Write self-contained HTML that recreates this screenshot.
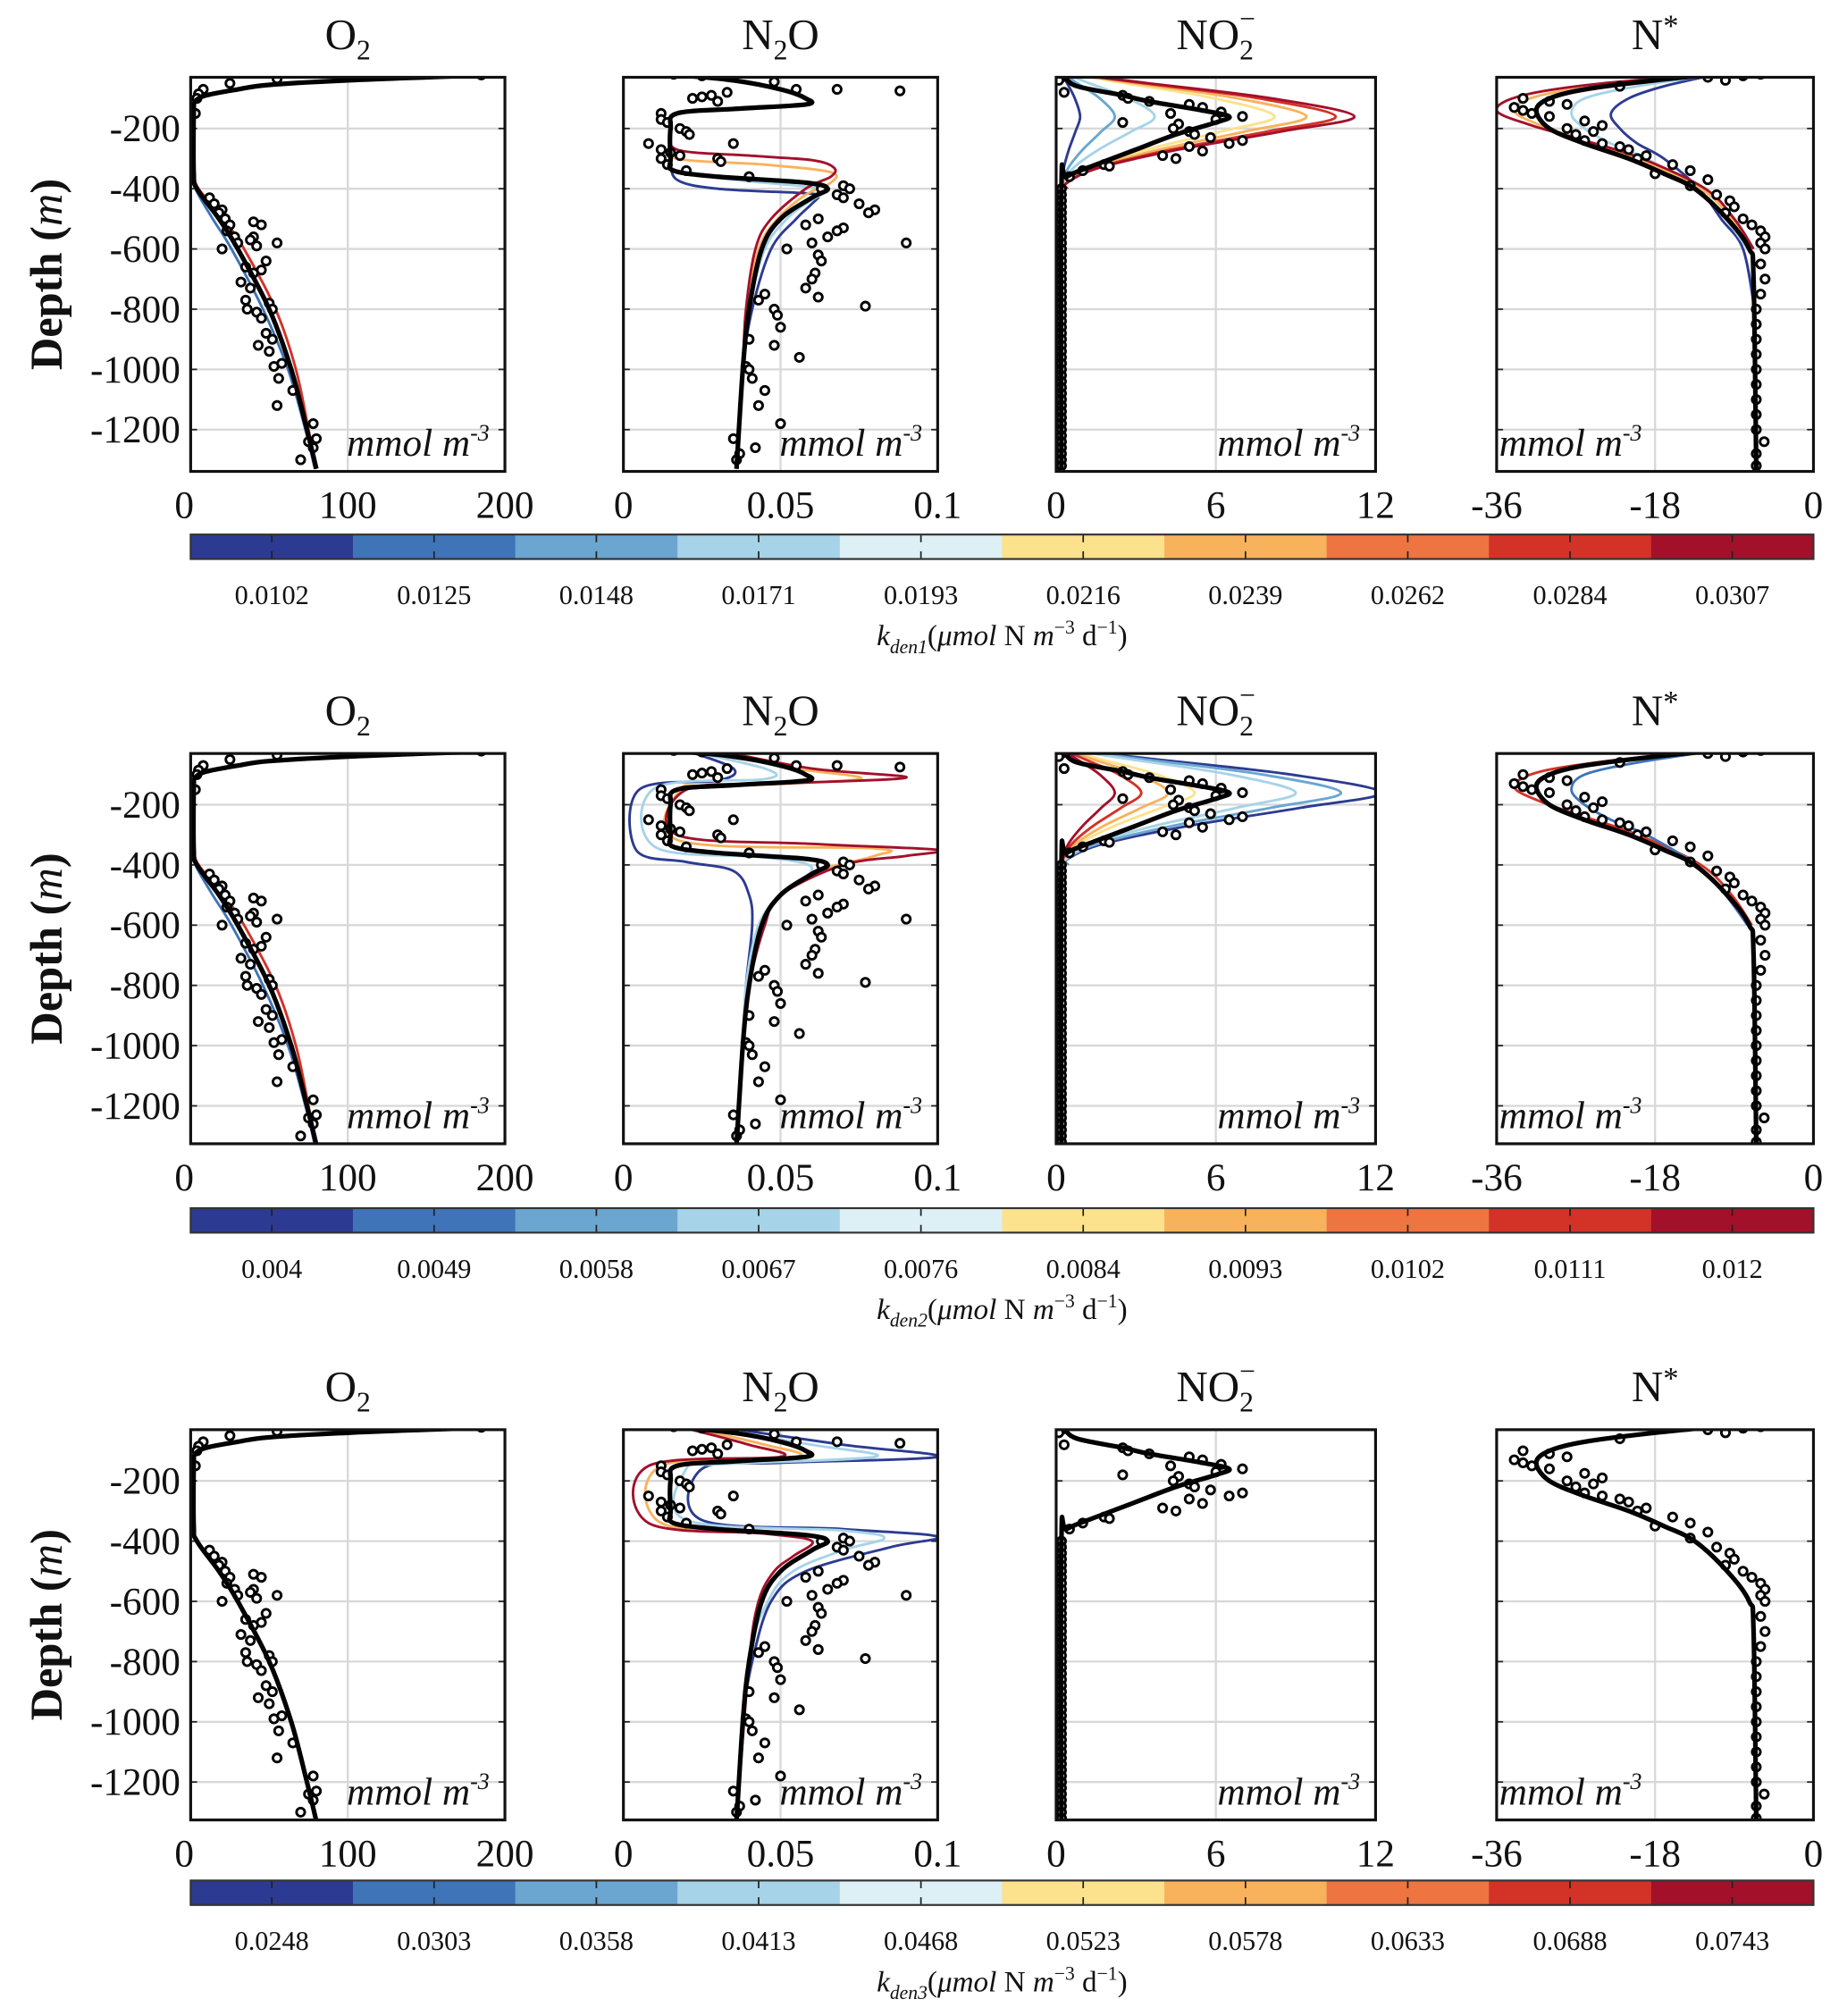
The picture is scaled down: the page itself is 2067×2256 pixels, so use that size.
<!DOCTYPE html>
<html><head><meta charset="utf-8">
<style>
html,body{margin:0;padding:0;background:#fff}
svg{display:block}
text{font-family:"Liberation Serif",serif;fill:#111}
</style></head>
<body>
<svg id="fig" xmlns="http://www.w3.org/2000/svg" width="2067" height="2256" viewBox="0 0 1434 1565.2"></svg>
<script>
// ---------- data ----------
const cmap = ["#2c3b91","#3f74b8","#6aa6d0","#a6d3e8","#dcf0f6","#fce28c","#f8b25c","#ee7442","#d33227","#a3102a"];
const cbLabels1 = ["0.0102","0.0125","0.0148","0.0171","0.0193","0.0216","0.0239","0.0262","0.0284","0.0307"];
const cbLabels2 = ["0.004","0.0049","0.0058","0.0067","0.0076","0.0084","0.0093","0.0102","0.0111","0.012"];
const cbLabels3 = ["0.0248","0.0303","0.0358","0.0413","0.0468","0.0523","0.0578","0.0633","0.0688","0.0743"];
const depthTicks = [200,400,600,800,1000,1200];
const o2Ticks = ["0","100","200"], n2oTicks = ["0","0.05","0.1"], no2Ticks = ["0","6","12"], nstarTicks = ["-36","-18","0"];

const o2Obs = [[22,185],[25,110],[35,55],[50,25],[70,8],[85,5],[100,4],[150,3],[430,12],[450,15],[470,20],[480,18],[500,22],[520,25],[540,23],[560,28],[580,30],[600,20],[580,55],[520,45],[510,40],[560,40],[590,42],[570,38],[640,48],[670,45],[660,35],[680,40],[710,32],[730,38],[770,35],[800,36],[810,42],[780,50],[800,52],[830,45],[880,48],[900,52],[920,43],[940,50],[980,58],[990,53],[1030,56],[1070,65],[1120,55],[1180,78],[1240,75],[1230,80],[1260,78],[1300,70]];
const n2oObs = [[20,0.016],[25,0.025],[30,0.035],[45,0.048],[70,0.068],[75,0.088],[70,0.055],[80,0.033],[90,0.028],[100,0.022],[95,0.025],[110,0.03],[150,0.012],[170,0.012],[180,0.014],[200,0.018],[210,0.02],[220,0.021],[250,0.008],[270,0.012],[280,0.015],[290,0.018],[300,0.012],[320,0.014],[250,0.035],[300,0.03],[310,0.031],[340,0.02],[360,0.04],[400,0.063],[420,0.068],[390,0.07],[400,0.072],[430,0.07],[450,0.075],[470,0.08],[480,0.078],[500,0.062],[520,0.058],[530,0.07],[540,0.068],[560,0.065],[580,0.06],[600,0.052],[580,0.09],[620,0.062],[640,0.063],[680,0.061],[700,0.06],[730,0.058],[760,0.062],[790,0.077],[750,0.045],[770,0.043],[800,0.048],[820,0.049],[860,0.05],[900,0.04],[920,0.048],[960,0.056],[990,0.039],[1000,0.04],[1030,0.041],[1070,0.045],[1120,0.043],[1180,0.05],[1230,0.035],[1260,0.042],[1280,0.037],[1300,0.036]];
const no2Obs = [[20,0.1],[30,0.2],[40,0.1],[80,0.3],[90,2.5],[100,2.7],[110,3.5],[120,5],[130,5.5],[150,4.3],[145,6.2],[160,7],[170,6],[180,2.5],[185,4.6],[200,4.4],[210,5],[220,5.2],[230,5.8],[240,7],[250,6.5],[260,5],[275,5.5],[290,4],[300,4.5],[320,1.8],[325,2],[340,1],[360,0.5],[400,0.2],[420,0.2],[440,0.2],[460,0.2],[480,0.2],[500,0.2],[520,0.2],[540,0.2],[560,0.2],[580,0.2],[600,0.2],[620,0.2],[640,0.2],[660,0.2],[680,0.2],[700,0.2],[720,0.2],[740,0.2],[760,0.2],[780,0.2],[800,0.2],[820,0.2],[840,0.2],[860,0.2],[880,0.2],[900,0.2],[920,0.2],[940,0.2],[960,0.2],[980,0.2],[1000,0.2],[1020,0.2],[1040,0.2],[1060,0.2],[1080,0.2],[1100,0.2],[1120,0.2],[1140,0.2],[1160,0.2],[1180,0.2],[1200,0.2],[1220,0.2],[1240,0.2],[1260,0.2],[1280,0.2],[1300,0.2],[1320,0.2]];
const nstarObs = [[20,-6],[25,-8],[30,-12],[40,-10],[60,-22],[100,-33],[110,-30],[120,-28],[130,-34],[140,-33],[150,-32],[160,-30],[175,-26],[190,-24],[200,-28],[210,-25],[220,-27],[240,-26],[250,-24],[260,-22],[270,-21],[290,-19],[300,-20],[320,-16],[340,-14],[350,-18],[370,-12],[390,-14],[420,-11],[440,-9.5],[460,-9],[480,-10],[500,-8],[520,-7],[540,-6],[560,-5.5],[580,-6],[600,-5.5],[650,-6],[700,-5.5],[750,-6],[800,-6.5],[850,-6.5],[900,-6.5],[950,-6.5],[1000,-6.5],[1050,-6.5],[1100,-6.5],[1150,-6.5],[1200,-6.5],[1240,-5.6],[1280,-6.5],[1320,-6.5]];

const o2Model = [[22,195],[30,150],[40,100],[55,50],[70,30],[90,10],[110,3],[150,2],[350,2],[400,4],[500,18],[600,30],[800,50],[1000,64],[1200,74],[1330,80]];
const o2Blue = [[350,2],[400,3],[500,14],[600,26],[800,46],[1000,62],[1200,73],[1330,79]];
const o2Red = [[350,2],[400,5],[500,21],[600,34],[800,54],[1000,67],[1200,75],[1330,80]];

const n2oModel = [[25,0.02],[40,0.035],[70,0.05],[100,0.058],[120,0.058],[135,0.035],[150,0.017],[200,0.015],[300,0.015],[340,0.016],[360,0.03],[380,0.058],[400,0.065],[430,0.06],[500,0.05],[600,0.044],[800,0.04],[1000,0.038],[1330,0.036]];
const n2oR1Blue = [[300,0.015],[370,0.017],[400,0.03],[415,0.058],[425,0.062],[450,0.06],[500,0.055],[600,0.047],[800,0.041],[1000,0.038],[1330,0.036]];
const n2oR1Light = [[300,0.015],[340,0.017],[370,0.035],[395,0.06],[410,0.064],[450,0.058],[500,0.052],[600,0.045],[800,0.04],[1000,0.038],[1330,0.036]];
const n2oR1Orange = [[250,0.015],[300,0.017],[320,0.045],[345,0.066],[380,0.066],[420,0.058],[500,0.049],[600,0.043],[800,0.039],[1000,0.038],[1330,0.036]];
const n2oR1Red = [[200,0.015],[270,0.017],[290,0.04],[305,0.06],[330,0.067],[360,0.066],[400,0.058],[500,0.047],[600,0.042],[800,0.039],[1000,0.038],[1330,0.036]];
const n2oR2Blue = [[20,0.02],[80,0.035],[120,0.03],[150,0.005],[350,0.004],[390,0.02],[420,0.035],[500,0.04],[600,0.041],[800,0.039],[1000,0.038],[1330,0.036]];
const n2oR2Light = [[20,0.02],[80,0.045],[115,0.045],[145,0.01],[340,0.01],[375,0.045],[410,0.06],[500,0.05],[600,0.043],[800,0.039],[1000,0.038],[1330,0.036]];
const n2oR2Orange = [[20,0.025],[80,0.055],[115,0.075],[140,0.03],[150,0.018],[320,0.018],[345,0.08],[370,0.08],[420,0.062],[500,0.05],[600,0.044],[800,0.04],[1000,0.038],[1330,0.036]];
const n2oR2Red = [[20,0.03],[80,0.06],[110,0.09],[130,0.05],[150,0.02],[300,0.017],[330,0.06],[350,0.1],[370,0.09],[400,0.07],[500,0.05],[600,0.045],[800,0.04],[1000,0.038],[1330,0.036]];
const n2oR3Blue = [[20,0.03],[80,0.07],[120,0.1],[140,0.05],[160,0.025],[330,0.025],[360,0.07],[385,0.1],[420,0.085],[500,0.058],[600,0.047],[800,0.041],[1000,0.038],[1330,0.036]];
const n2oR3Light = [[20,0.025],[80,0.06],[120,0.08],[145,0.03],[160,0.02],[330,0.02],[365,0.07],[390,0.083],[430,0.07],[500,0.054],[600,0.046],[800,0.04],[1330,0.036]];
const n2oR3Orange = [[20,0.02],[80,0.045],[120,0.055],[150,0.012],[340,0.012],[370,0.05],[395,0.065],[440,0.058],[500,0.05],[600,0.044],[800,0.04],[1330,0.036]];
const n2oR3Red = [[20,0.018],[80,0.04],[120,0.05],[150,0.008],[340,0.008],[375,0.045],[400,0.06],[450,0.054],[500,0.048],[600,0.043],[800,0.04],[1330,0.036]];

const no2Model = [[20,0],[30,0.3],[60,0.8],[90,2.5],[110,3.5],[140,5.5],[160,6.5],[180,6],[220,4.5],[270,3],[320,1.5],[360,0.4],[400,0.2],[1330,0.2]];
const no2Peaks1 = [0.7,2,3.5,8,9.2,10.3,11];
const no2Peaks2 = [12,10.5,8.8,5,4,3,2];
const no2Colors = [0,2,3,5,6,8,9];
const no2Shape = [[20,0.05],[50,0.3],[100,0.72],[160,1],[210,0.75],[270,0.4],[330,0.13],[380,0.02],[400,0.02]];

const nstarModel = [[20,-11],[40,-18],[70,-26],[100,-30],[140,-31.5],[200,-30],[250,-26],[300,-21],[350,-17],[400,-13.5],[500,-9.8],[600,-7.3],[700,-6.8],[1330,-6.5]];
const nstarR1Blue = [[20,-11],[60,-17],[100,-21],[150,-23],[200,-22],[250,-20],[300,-17],[400,-13],[500,-10.5],[600,-8],[800,-6.7]];
const nstarR1Light = [[20,-11],[60,-20],[100,-26],[150,-27.5],[200,-26],[250,-23],[300,-19],[400,-13.3],[500,-10],[600,-7.5]];
const nstarR1Orange = [[20,-11],[50,-22],[90,-31],[140,-34],[190,-31],[240,-26],[300,-20],[400,-12.8],[500,-9.3],[600,-7]];
const nstarR1Red = [[20,-11],[50,-24],[90,-33],[140,-36],[190,-32],[240,-26],[300,-19.5],[400,-12.3],[500,-9],[600,-6.8]];

// ---------- drawing ----------
const NS = "http://www.w3.org/2000/svg";
const svg = document.getElementById("fig");
function mk(tag, attrs, parent){const e=document.createElementNS(NS,tag);for(const k in attrs)e.setAttribute(k,attrs[k]);(parent||svg).appendChild(e);return e;}

const rowY0 = [53,578,1103];
const rowTop = [60,585,1110], rowBot = [366,888,1413];
const dScale = 0.2338;
const cols = [
  {x0:148,x1:392,min:0,max:200,ticks:o2Ticks,tv:[0,100,200],title:"O2"},
  {x0:484,x1:728,min:0,max:0.1,ticks:n2oTicks,tv:[0,0.05,0.1],title:"N2O"},
  {x0:820,x1:1068,min:0,max:12,ticks:no2Ticks,tv:[0,6,12],title:"NO2"},
  {x0:1162,x1:1408,min:-36,max:0,ticks:nstarTicks,tv:[-36,-18,0],title:"N*"}
];
function xs(c,v){return c.x0+(v-c.min)/(c.max-c.min)*(c.x1-c.x0);}
function ys(r,d){return rowY0[r]+d*dScale;}

function pathFrom(c,r,pts){
  const p=pts.map(q=>[xs(c,q[1]),ys(r,q[0])]);
  let s="M"+p[0][0].toFixed(1)+","+p[0][1].toFixed(1);
  for(let i=0;i<p.length-1;i++){
    const p0=p[i-1]||p[i],p1=p[i],p2=p[i+1],p3=p[i+2]||p2;
    const c1=[p1[0]+(p2[0]-p0[0])/6,p1[1]+(p2[1]-p0[1])/6];
    const c2=[p2[0]-(p3[0]-p1[0])/6,p2[1]-(p3[1]-p1[1])/6];
    s+=" C"+c1[0].toFixed(1)+","+c1[1].toFixed(1)+" "+c2[0].toFixed(1)+","+c2[1].toFixed(1)+" "+p2[0].toFixed(1)+","+p2[1].toFixed(1);
  }
  return s;
}

const titleMarkup = {
  "O2":'O<tspan font-size="22" dy="8">2</tspan>',
  "N2O":'N<tspan font-size="22" dy="8">2</tspan><tspan dy="-8">O</tspan>',
  "NO2":'NO<tspan font-size="22" dy="8">2</tspan><tspan font-size="22" dx="-11" dy="-24">−</tspan>',
  "N*":'N<tspan font-size="24" dy="-10">*</tspan>'
};

function curvesFor(r,ci){
  const out=[];
  if(ci===0){ if(r<2){out.push([o2Blue,1]);out.push([o2Red,8]);} }
  if(ci===1){
    if(r===0){out.push([n2oR1Blue,0],[n2oR1Light,3],[n2oR1Orange,6],[n2oR1Red,9]);}
    if(r===1){out.push([n2oR2Blue,0],[n2oR2Light,3],[n2oR2Orange,6],[n2oR2Red,9]);}
    if(r===2){out.push([n2oR3Blue,0],[n2oR3Light,3],[n2oR3Orange,6],[n2oR3Red,9]);}
  }
  if(ci===2 && r<2){
    const peaks = r===0?no2Peaks1:no2Peaks2;
    peaks.forEach((pk,i)=>{out.push([no2Shape.map(q=>[q[0],q[1]*pk+0.2]),no2Colors[i]]);});
  }
  if(ci===3 && r===0){out.push([nstarR1Blue,0],[nstarR1Light,3],[nstarR1Orange,6],[nstarR1Red,9]);}
  if(ci===3 && r===1){out.push([nstarR1Orange,8],[nstarR1Light,1]);}
  return out;
}
const models=[o2Model,n2oModel,no2Model,nstarModel];
const obs=[o2Obs,n2oObs,no2Obs,nstarObs];
const names=["o2","n2o","no2","nstar"];

for(let r=0;r<3;r++){
  const yl = mk("text",{x:0,y:0,"font-size":35,"font-weight":"bold","text-anchor":"middle",transform:`translate(48,${(rowTop[r]+rowBot[r])/2}) rotate(-90)`});
  
  
  yl.innerHTML='Depth (<tspan font-style="italic" font-weight="normal">m</tspan>)';
  cols.forEach((c,ci)=>{
    const g=mk("g",{});
    
    
    const cid=`clip${r}${ci}`;
    const cp=mk("clipPath",{id:cid},g);
    mk("rect",{x:c.x0,y:rowTop[r],width:c.x1-c.x0,height:rowBot[r]-rowTop[r]},cp);
    depthTicks.forEach(d=>{mk("line",{x1:c.x0,x2:c.x1,y1:ys(r,d),y2:ys(r,d),stroke:"#d8d8d8","stroke-width":1.6},g);
      mk("line",{x1:c.x0,x2:c.x0+5,y1:ys(r,d),y2:ys(r,d),stroke:"#222","stroke-width":1.2},g);
      mk("line",{x1:c.x1-5,x2:c.x1,y1:ys(r,d),y2:ys(r,d),stroke:"#222","stroke-width":1.2},g);});
    const xm=xs(c,c.tv[1]);
    mk("line",{x1:xm,x2:xm,y1:rowTop[r],y2:rowBot[r],stroke:"#d8d8d8","stroke-width":1.6},g);
    const inner=mk("g",{"clip-path":`url(#${cid})`},g);
    curvesFor(r,ci).forEach(([pts,k])=>{
      const p=mk("path",{d:pathFrom(c,r,pts),fill:"none",stroke:cmap[k],"stroke-width":2},inner);
      
      
    });
    obs[ci].forEach(q=>{
      const ci2=mk("circle",{cx:xs(c,q[1]),cy:ys(r,q[0]),r:3.2,fill:"#fff",stroke:"#000","stroke-width":2},inner);
      
      
    });
    const bl=mk("path",{d:pathFrom(c,r,models[ci]),fill:"none",stroke:"#000","stroke-width":3.6},inner);
    
    
    mk("rect",{x:c.x0,y:rowTop[r],width:c.x1-c.x0,height:rowBot[r]-rowTop[r],fill:"none",stroke:"#111","stroke-width":2.2},g);
    c.tv.forEach((v,i)=>{
      const t=mk("text",{x:xs(c,v)-(i===0&&ci===0?5:0),y:rowBot[r]+36,"font-size":30,"text-anchor":"middle"},g);
      
      
      t.textContent=c.ticks[i];
    });
    if(ci===0){depthTicks.forEach(d=>{const t=mk("text",{x:c.x0-8,y:ys(r,d)+10,"font-size":30,"text-anchor":"end"},g);
      
      
      t.textContent="-"+d;});}
    const u=mk("text",{x:ci===3?c.x0+2:c.x1-12,y:rowBot[r]-12,"font-size":30,"font-style":"italic","text-anchor":ci===3?"start":"end"},g);
    
    
    u.innerHTML='mmol m<tspan font-size="18" dy="-12">-3</tspan>';
    const tt=mk("text",{x:(c.x0+c.x1)/2,y:rowTop[r]-22,"font-size":34,"text-anchor":"middle"},g);
    
    
    tt.innerHTML=titleMarkup[c.title];
  });
  const cbY=[415,938,1460][r];
  const cb=mk("g",{});
  
  
  const labs=[cbLabels1,cbLabels2,cbLabels3][r];
  const bw=(1408-148)/10;
  for(let i=0;i<10;i++){
    mk("rect",{x:148+i*bw,y:cbY,width:bw+0.5,height:19,fill:cmap[i]},cb);
    const cx=148+i*bw+bw/2;
    mk("line",{x1:cx,x2:cx,y1:cbY,y2:cbY+6,stroke:"#222","stroke-width":1.2},cb);
    mk("line",{x1:cx,x2:cx,y1:cbY+13,y2:cbY+19,stroke:"#222","stroke-width":1.2},cb);
    const t=mk("text",{x:cx,y:cbY+54,"font-size":21,"text-anchor":"middle"},cb);
    
    
    t.textContent=labs[i];
  }
  mk("rect",{x:148,y:cbY,width:1260,height:19,fill:"none",stroke:"#333","stroke-width":1.5},cb);
  const ct=mk("text",{x:778,y:cbY+86,"font-size":23,"text-anchor":"middle"},cb);
  
  
  ct.innerHTML=`<tspan font-style="italic">k</tspan><tspan font-size="15" font-style="italic" dy="6">den${r+1}</tspan><tspan dy="-6">(</tspan><tspan font-style="italic">μmol</tspan> N <tspan font-style="italic">m</tspan><tspan font-size="15" dy="-9">−3</tspan><tspan dy="9"> d</tspan><tspan font-size="15" dy="-9">−1</tspan><tspan dy="9">)</tspan>`;
}
</script>
</body></html>
